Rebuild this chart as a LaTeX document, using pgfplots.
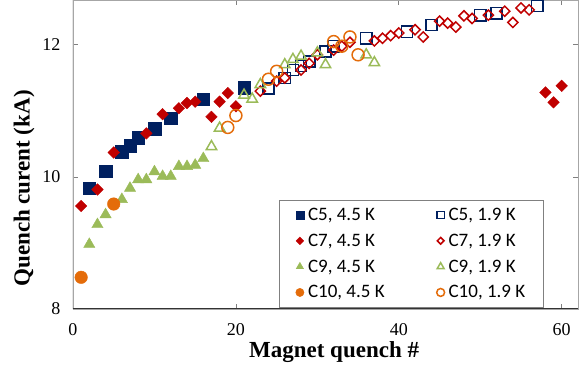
\documentclass[border=0pt]{standalone}
\usepackage{fontspec}
\setmainfont{Liberation Serif}
\newfontfamily\legendfont{Carlito}
\usepackage{pgfplots}
\pgfplotsset{compat=1.18}

\definecolor{navy}{HTML}{002060}
\definecolor{darkred}{HTML}{C00000}
\definecolor{olivegreen}{HTML}{9BBB59}
\definecolor{pumpkin}{HTML}{E46C0A}

\pgfplotsset{
  filledmark/.style={only marks, color=#1, mark options={fill=#1, draw=#1, line width=0.4pt}},
  openmark/.style={only marks, color=#1, mark options={fill=none, draw=#1, line width=1.5pt}},
  filleddiamond/.style={only marks, color=#1, mark=square*, mark options={fill=#1, draw=#1, line width=0.4pt, rotate=45}},
  opendiamond/.style={only marks, color=#1, mark=square, mark options={fill=none, draw=#1, line width=1.5pt, rotate=45}},
}

\begin{document}
\begin{tikzpicture}
\begin{axis}[
  scale only axis,
  width=505pt, height=309pt,
  xmin=0, xmax=62, ymin=8, ymax=12.68,
  xtick={0,20,40,60}, ytick={8,10,12},
  tick align=inside, major tick length=5pt,
  tick style={gray, line width=0.8pt},
  axis line style={gray!70, line width=0.9pt},
  /pgf/number format/assume math mode=true,
  ticklabel style={font=\fontsize{18}{18}\selectfont},
  xticklabel style={yshift=-11pt},
  yticklabel style={xshift=-9pt},
  xlabel={\textbf{Magnet quench \#}},
  ylabel={\textbf{Quench curent (kA)}},
  label style={font=\fontsize{23}{23}\selectfont},
  xlabel style={at={(axis description cs:0.517,-0.138)}, anchor=center},
  ylabel style={at={(axis description cs:-0.097,0.39)}, anchor=center},
  legend columns=2,
  legend cell align=left,
  legend style={
    at={(axis description cs:0.932,0.004)}, anchor=south east,
    draw=gray, line width=0.8pt,
    font=\legendfont\fontsize{19}{19}\selectfont,
    inner xsep=16pt, inner ysep=6pt,
    row sep=8pt,
    /tikz/column 2/.style={column sep=50pt},
    /tikz/every odd column/.append style={column sep=2pt},
  },
  legend image code/.code={%
    \draw[#1, /tikz/every mark/.append style={scale=0.66}] plot coordinates {(0.1cm,0cm)};},
]

% C5
\addplot[filledmark=navy, mark=square*, mark size=6.3pt] coordinates {
  (2,9.83) (4,10.09) (6,10.38) (7,10.47) (8,10.59) (10,10.73) (12,10.89) (16,11.18) (21,11.35)
};
\addlegendentry{C5, 4.5 K}
\addplot[openmark=navy, mark=square, mark size=5.6pt] coordinates {
  (24,11.34) (26,11.5) (27,11.62) (28,11.68) (29,11.75) (31,11.9) (32,11.98) (36,12.1)
  (41,12.2) (44,12.3) (50,12.45) (52,12.48) (57,12.59)
};
\addlegendentry{C5, 1.9 K}

% C7
\addplot[filleddiamond=darkred, mark size=4.1pt] coordinates {
  (1,9.56) (3,9.81) (5,10.37) (9,10.66) (11,10.95) (13,11.04) (14,11.12) (15,11.14)
  (17,10.91) (18,11.14) (19,11.27) (20,11.07) (58,11.28) (59,11.13) (60,11.38)
};
\addlegendentry{C7, 4.5 K}
\addplot[opendiamond=darkred, mark size=3.6pt] coordinates {
  (23,11.3) (25,11.45) (26,11.5) (28,11.62) (29,11.72) (30,11.85) (32,11.92) (33,11.98)
  (34,12.04) (37,12.06) (38,12.1) (39,12.14) (40,12.18) (42,12.23) (43,12.12) (45,12.36)
  (46,12.33) (47,12.27) (48,12.44) (49,12.4) (51,12.45) (53,12.51) (54,12.34) (55,12.56) (56,12.53)
};
\addlegendentry{C7, 1.9 K}

% C9
\addplot[filledmark=olivegreen, mark=triangle*, mark size=6.5pt] coordinates {
  (2,8.98) (3,9.28) (4,9.43) (6,9.66) (7,9.83) (8,9.96) (9,9.96) (10,10.08) (11,10.01)
  (12,10.01) (13,10.16) (14,10.16) (15,10.18) (16,10.28)
};
\addlegendentry{C9, 4.5 K}
\addplot[openmark=olivegreen, mark=triangle, mark size=6pt] coordinates {
  (17,10.46) (18,10.74) (21,11.24) (22,11.18) (23,11.4) (26,11.7) (27,11.78) (28,11.83)
  (30,11.88) (31,11.7) (36,11.85) (37,11.73)
};
\addlegendentry{C9, 1.9 K}

% C10
\addplot[filledmark=pumpkin, mark=*, mark size=6.3pt] coordinates {
  (1,8.48) (5,9.59)
};
\addlegendentry{C10, 4.5 K}
\addplot[openmark=pumpkin, mark=o, mark size=6pt] coordinates {
  (19,10.75) (20,10.93) (24,11.48) (25,11.6) (32,12.05) (33,11.98) (34,12.12) (35,11.85)
};
\addlegendentry{C10, 1.9 K}

% darker left and bottom spines
\draw[black!80, line width=1pt] (rel axis cs:0,1) -- (rel axis cs:0,0) -- (rel axis cs:1,0);
\end{axis}
\pgfresetboundingbox
\path[use as bounding box] (-73pt,-57pt) rectangle (510pt,309pt);
\end{tikzpicture}
\end{document}
